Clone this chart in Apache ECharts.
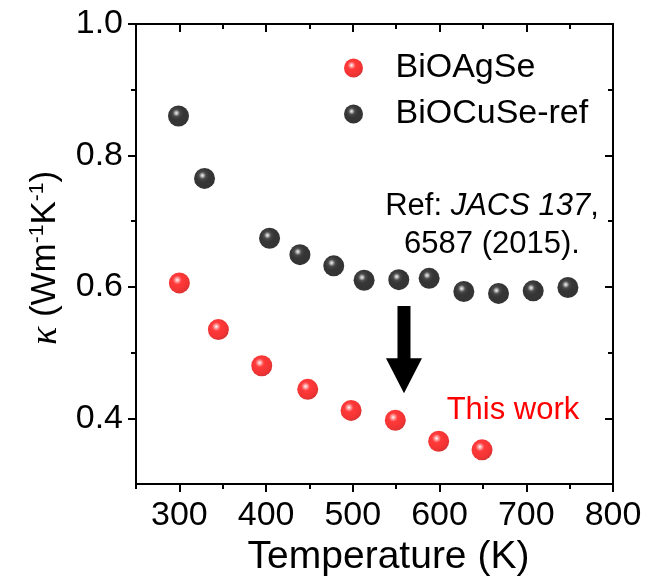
<!DOCTYPE html>
<html>
<head>
<meta charset="utf-8">
<script src="https://cdn.jsdelivr.net/npm/echarts@6/dist/echarts.min.js"></script>
<style>
  html, body { margin: 0; padding: 0; background: #fff; }
  #chart { width: 656px; height: 577px; }
</style>
</head>
<body>
<div id="chart"></div>
<script>
// Thermal conductivity vs. temperature
const tempAgSe  = [300, 345, 395, 448, 498, 549, 599, 649];
const kappaAgSe = [0.606, 0.535, 0.480, 0.444, 0.412, 0.397, 0.365, 0.352];

const tempCuSe  = [299, 329, 404, 439, 478, 513, 553, 588, 628, 668, 708, 748];
const kappaCuSe = [0.860, 0.765, 0.674, 0.649, 0.632, 0.610, 0.611, 0.613, 0.593, 0.590, 0.594, 0.599];

const seriesNames = ['BiOAgSe', 'BiOCuSe-ref'];

const xMajorTicks = [300, 400, 500, 600, 700, 800];
const xMinorTicks = [250, 350, 450, 550, 650, 750];
const yMajorTicks = [0.4, 0.6, 0.8, 1.0];
const yMinorTicks = [0.5, 0.7, 0.9];

// Arrow annotation (data coordinates): from the reference curve down to this work
const arrowT = 559;
const arrowFrom = 0.571;
const arrowTo = 0.438;

const FONT = '"Liberation Sans", Arial, Helvetica, sans-serif';
const SERIF = '"Liberation Serif", "Times New Roman", serif';

const xRange = { min: 250, max: 800, interval: 50 };
const yRange = { min: 0.3, max: 1.0, interval: 0.1 };

const lineOn = { show: true, onZero: false, lineStyle: { color: '#000', width: 2 } };
const lineOff = { show: false, onZero: false };

function tickAxis(range, position, values, length, inside, withLine) {
  return Object.assign({}, range, {
    type: 'value',
    position: position,
    axisLine: withLine ? lineOn : lineOff,
    axisTick: { show: true, inside: inside, length: length, customValues: values,
                lineStyle: { color: '#000', width: 2 } },
    axisLabel: { show: false },
    splitLine: { show: false }
  });
}

function sphere(stops) {
  return {
    type: 'radial', x: 0.4, y: 0.36, r: 0.7,
    colorStops: stops.map(s => ({ offset: s[0], color: s[1] }))
  };
}

const redBall = sphere([[0, '#ffffff'], [0.12, '#ff9090'], [0.3, '#ff0808'], [0.75, '#ee0000'], [1, '#c00000']]);
const blackBall = sphere([[0, '#eeeeee'], [0.1, '#a0a0a0'], [0.24, '#1c1c1c'], [0.45, '#030303'], [1, '#000000']]);

function zip(xs, ys) { return xs.map((x, i) => [x, ys[i]]); }

const chart = echarts.init(document.getElementById('chart'), null, { renderer: 'canvas' });

const mainX = Object.assign(tickAxis(xRange, 'bottom', xMajorTicks, 8, false, true), {
  axisLabel: { show: true, customValues: xMajorTicks, fontSize: 34, fontFamily: FONT,
               color: '#000', margin: 15 },
  name: 'Temperature (K)',
  nameLocation: 'middle',
  nameGap: 51,
  nameTextStyle: { fontSize: 39, fontFamily: FONT, color: '#000', padding: [0, 0, 0, 28] }
});

const mainY = Object.assign(tickAxis(yRange, 'left', yMajorTicks, 8, false, true), {
  axisLabel: { show: true, customValues: yMajorTicks, fontSize: 34, fontFamily: FONT,
               color: '#000', margin: 13, formatter: v => v.toFixed(1) },
  name: '{k|κ}{t| (Wm}{s|-1}{t|K}{s|-1}{t|)}',
  nameLocation: 'middle',
  nameRotate: 90,
  nameGap: 71,
  nameTextStyle: {
    fontFamily: FONT, color: '#000',
    padding: [0, 8, 0, 0],
    rich: {
      k: { fontFamily: SERIF, fontStyle: 'italic', fontSize: 38, color: '#000' },
      t: { fontFamily: FONT, fontSize: 35, color: '#000' },
      s: { fontFamily: FONT, fontSize: 21, color: '#000', verticalAlign: 'top' }
    }
  }
});

const option = {
  animation: false,
  backgroundColor: '#fff',
  grid: { left: 136, right: 43, top: 24, bottom: 93, containLabel: false, outerBoundsMode: 'none' },
  xAxis: [
    mainX,
    tickAxis(xRange, 'bottom', xMinorTicks, 5, false, false),
    tickAxis(xRange, 'top', xMajorTicks, 8, true, true),
    tickAxis(xRange, 'top', xMinorTicks, 5, true, false)
  ],
  yAxis: [
    mainY,
    tickAxis(yRange, 'left', yMinorTicks, 5, false, false),
    tickAxis(yRange, 'right', yMajorTicks, 8, true, true),
    tickAxis(yRange, 'right', yMinorTicks, 5, true, false)
  ],
  legend: {
    orient: 'vertical',
    left: 339,
    top: 46,
    itemWidth: 74,
    itemHeight: 19,
    itemGap: 12,
    selectedMode: false,
    textStyle: { fontSize: 34, fontFamily: FONT, color: '#000' },
    data: seriesNames
  },
  series: [
    {
      name: seriesNames[0],
      type: 'scatter',
      xAxisIndex: 0, yAxisIndex: 0,
      symbol: 'circle',
      symbolSize: 21,
      itemStyle: { color: redBall },
      emphasis: { disabled: true },
      data: zip(tempAgSe, kappaAgSe)
    },
    {
      name: seriesNames[1],
      type: 'scatter',
      xAxisIndex: 0, yAxisIndex: 0,
      symbol: 'circle',
      symbolSize: 21,
      itemStyle: { color: blackBall },
      emphasis: { disabled: true },
      data: zip(tempCuSe, kappaCuSe)
    }
  ]
};

chart.setOption(option);

// Annotations: arrow placed in data space, plus the two text notes
const pTop = chart.convertToPixel({ xAxisIndex: 0, yAxisIndex: 0 }, [arrowT, arrowFrom]);
const pTip = chart.convertToPixel({ xAxisIndex: 0, yAxisIndex: 0 }, [arrowT, arrowTo]);
const shaftHalf = 6.5, headHalf = 18, headLen = 35;
const cx = pTop[0];
const headBase = pTip[1] - headLen;

chart.setOption({
  graphic: [
    {
      type: 'polygon',
      shape: {
        points: [
          [cx - shaftHalf, pTop[1]], [cx + shaftHalf, pTop[1]],
          [cx + shaftHalf, headBase], [cx + headHalf, headBase],
          [cx, pTip[1]],
          [cx - headHalf, headBase], [cx - shaftHalf, headBase]
        ]
      },
      style: { fill: '#000' },
      silent: true
    },
    {
      type: 'text',
      x: 492, y: 225,
      style: {
        text: '{n|Ref: }{i|JACS 137}{n|,}\n{n|6587 (2015).}',
        align: 'center',
        verticalAlign: 'middle',
        fill: '#000',
        rich: {
          n: { fontFamily: FONT, fontSize: 31, lineHeight: 38, fill: '#000' },
          i: { fontFamily: FONT, fontSize: 31, lineHeight: 38, fontStyle: 'italic', fill: '#000' }
        }
      },
      silent: true
    },
    {
      type: 'text',
      x: 513, y: 410,
      style: {
        text: 'This work',
        align: 'center',
        verticalAlign: 'middle',
        fill: '#ff0000',
        font: '31px ' + FONT
      },
      silent: true
    }
  ]
});
</script>
</body>
</html>
